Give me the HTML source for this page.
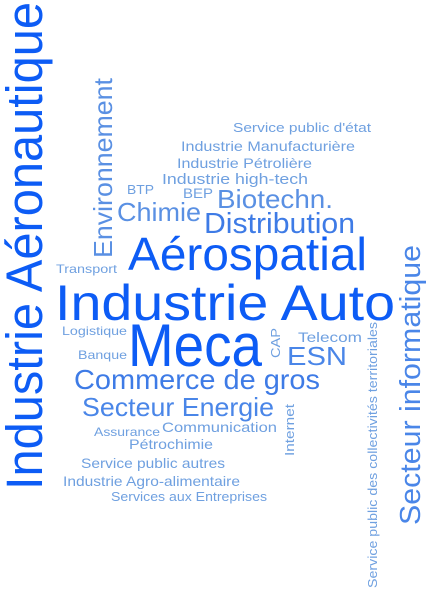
<!DOCTYPE html>
<html><head><meta charset="utf-8"><style>
html,body{margin:0;padding:0;background:#fff;}
svg{display:block;font-family:"Liberation Sans",sans-serif;}
</style></head><body>
<svg width="430" height="593">
<g>
<text transform="translate(42,490) rotate(-90)" font-size="51" fill="#0d5cf5" textLength="488" lengthAdjust="spacingAndGlyphs">Industrie Aéronautique</text>
<text x="55" y="320" font-size="50" fill="#0d5cf5" textLength="340" lengthAdjust="spacingAndGlyphs">Industrie Auto</text>
<text x="128" y="366" font-size="60" fill="#0d5cf5" textLength="134" lengthAdjust="spacingAndGlyphs">Meca</text>
<text x="128" y="270" font-size="46" fill="#0d5cf5" textLength="239" lengthAdjust="spacingAndGlyphs">Aérospatial</text>
<text x="204" y="233" font-size="29" fill="#3e7be6" textLength="151" lengthAdjust="spacingAndGlyphs">Distribution</text>
<text x="217" y="208" font-size="26" fill="#5a90e3" textLength="116" lengthAdjust="spacingAndGlyphs">Biotechn.</text>
<text x="117" y="221" font-size="26" fill="#5a90e3" textLength="84" lengthAdjust="spacingAndGlyphs">Chimie</text>
<text transform="translate(112,258) rotate(-90)" font-size="26" fill="#5a90e3" textLength="180" lengthAdjust="spacingAndGlyphs">Environnement</text>
<text transform="translate(420,525) rotate(-90)" font-size="29" fill="#4a86e8" textLength="280" lengthAdjust="spacingAndGlyphs">Secteur informatique</text>
<text transform="translate(377,588) rotate(-90)" font-size="13" fill="#6fa0e0" textLength="266" lengthAdjust="spacingAndGlyphs">Service public des collectivités territoriales</text>
<text x="74" y="389" font-size="28" fill="#3e7be6" textLength="246" lengthAdjust="spacingAndGlyphs">Commerce de gros</text>
<text x="287" y="365" font-size="26" fill="#4a86e8" textLength="60" lengthAdjust="spacingAndGlyphs">ESN</text>
<text x="82" y="416" font-size="26" fill="#4a86e8" textLength="192" lengthAdjust="spacingAndGlyphs">Secteur Energie</text>
<text x="233" y="132" font-size="13" fill="#6fa0e0" textLength="138" lengthAdjust="spacingAndGlyphs">Service public d'état</text>
<text x="181" y="151" font-size="14" fill="#6fa0e0" textLength="174" lengthAdjust="spacingAndGlyphs">Industrie Manufacturière</text>
<text x="177" y="168" font-size="14" fill="#6fa0e0" textLength="135" lengthAdjust="spacingAndGlyphs">Industrie Pétrolière</text>
<text x="162" y="184" font-size="15" fill="#6fa0e0" textLength="146" lengthAdjust="spacingAndGlyphs">Industrie high-tech</text>
<text x="127" y="194" font-size="13" fill="#6fa0e0" textLength="27" lengthAdjust="spacingAndGlyphs">BTP</text>
<text x="183" y="198" font-size="14" fill="#6fa0e0" textLength="30" lengthAdjust="spacingAndGlyphs">BEP</text>
<text x="56" y="273" font-size="12" fill="#6fa0e0" textLength="61" lengthAdjust="spacingAndGlyphs">Transport</text>
<text x="62" y="335" font-size="12" fill="#6fa0e0" textLength="65" lengthAdjust="spacingAndGlyphs">Logistique</text>
<text x="78" y="359" font-size="12" fill="#6fa0e0" textLength="49" lengthAdjust="spacingAndGlyphs">Banque</text>
<text transform="translate(280,358) rotate(-90)" font-size="13" fill="#6fa0e0" textLength="30" lengthAdjust="spacingAndGlyphs">CAP</text>
<text x="298" y="342" font-size="14" fill="#6fa0e0" textLength="64" lengthAdjust="spacingAndGlyphs">Telecom</text>
<text transform="translate(294,456) rotate(-90)" font-size="13" fill="#6fa0e0" textLength="52" lengthAdjust="spacingAndGlyphs">Internet</text>
<text x="94" y="436" font-size="12" fill="#6fa0e0" textLength="66" lengthAdjust="spacingAndGlyphs">Assurance</text>
<text x="162" y="432" font-size="14" fill="#6fa0e0" textLength="115" lengthAdjust="spacingAndGlyphs">Communication</text>
<text x="129" y="449" font-size="14" fill="#6fa0e0" textLength="84" lengthAdjust="spacingAndGlyphs">Pétrochimie</text>
<text x="81" y="468" font-size="14" fill="#6fa0e0" textLength="144" lengthAdjust="spacingAndGlyphs">Service public autres</text>
<text x="63" y="486" font-size="14" fill="#6fa0e0" textLength="177" lengthAdjust="spacingAndGlyphs">Industrie Agro-alimentaire</text>
<text x="111" y="501" font-size="13" fill="#6fa0e0" textLength="156" lengthAdjust="spacingAndGlyphs">Services aux Entreprises</text>
</g>
</svg>
</body></html>
